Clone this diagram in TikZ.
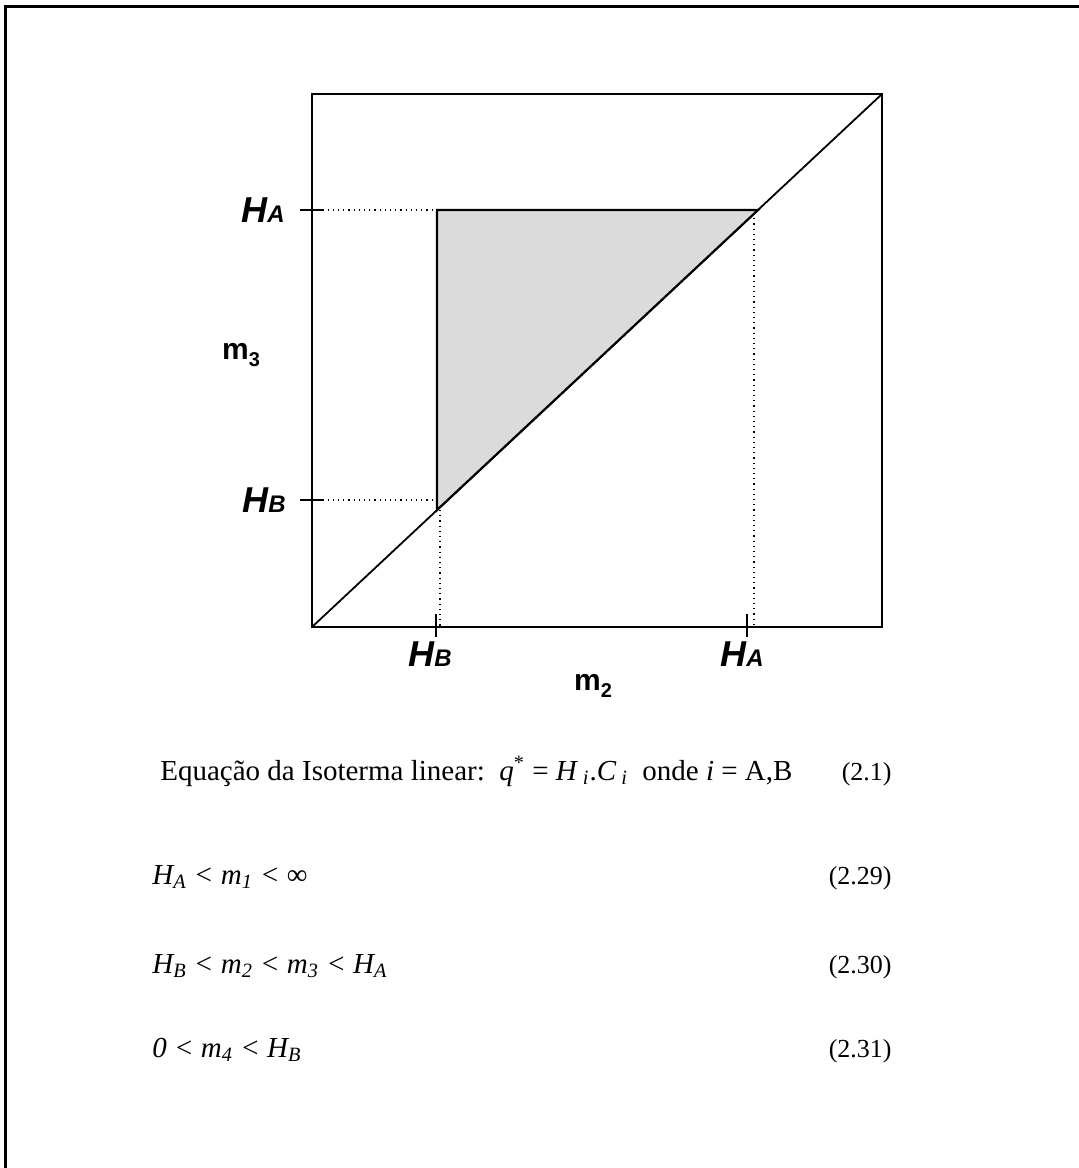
\documentclass[tikz,border=0pt]{standalone}
\usepackage{fontspec}
\setmainfont{Liberation Serif}
\setsansfont{Liberation Sans}
\usetikzlibrary{positioning}

% bold italic H with a small index on the same baseline, as on the axes
\newcommand{\hlab}[1]{H{\fontsize{12}{12}\selectfont #1}}
\newcommand{\mlab}[1]{m\raisebox{-3.5pt}{\fontsize{10}{10}\selectfont #1}}
\newcommand{\sub}[1]{\textsubscript{\textit{#1}}}

\begin{document}
\begin{tikzpicture}[
  x=0.5pt, y=-0.5pt,
  frame/.style={line width=1.5pt},
  axis/.style={line width=0.9pt},
  guide/.style={dotted, line width=0.6pt},
  tick/.style={line width=0.7pt},
  hlabel/.style={font=\sffamily\bfseries\itshape\fontsize{18}{18}\selectfont, inner sep=0pt},
  mlabel/.style={font=\sffamily\bfseries\fontsize{15}{15}\selectfont, inner sep=0pt},
  eqline/.style={font=\fontsize{14.5}{16}\selectfont, anchor=base west, inner sep=0pt},
  eqnum/.style={font=\fontsize{13}{14}\selectfont, anchor=base east, inner sep=0pt}
]
\useasboundingbox (0,0) rectangle (1079,1168);

% page frame (top and left only)
\draw[frame] (5,1168) -- (5,6) -- (1079,6);

% plot box and diagonal
\coordinate (ll) at (312,627);
\coordinate (ur) at (882,94);
\draw[axis] (ll) rectangle (ur);
\draw[axis] (ll) -- (ur);

% feasible region
\coordinate (tl) at (437,210);
\coordinate (tr) at (758,210);
\coordinate (bl) at (437,510);
\fill[black!14] (tl) -- (tr) -- (bl) -- cycle;
\draw[axis, line width=1.1pt] (bl) -- (tl) -- (tr) -- cycle;

% guides to the axes
\coordinate (ya) at (312,210);
\coordinate (yb) at (312,500);
\coordinate (xb) at (440,627);
\coordinate (xa) at (754,627);
\draw[guide] (ya) -- (tl);
\draw[guide] (yb) -- (437,500);
\draw[guide] (440,510) -- (xb);
\draw[guide] (754,213) -- (xa);

% ticks
\draw[tick] (300,210) -- (323,210);
\draw[tick] (300,500) -- (323,500);
\draw[tick] (436,614) -- (436,637);
\draw[tick] (747,614) -- (747,637);

% axis labels
\node[hlabel] (ha) at (263,210) {\hlab{A}};
\node[hlabel] (hb) at (264,500) {\hlab{B}};
\node[mlabel] (m3) at (241,355) {\mlab{3}};
\node[hlabel] (hbx) at (430,654) {\hlab{B}};
\node[hlabel] (hax) at (742,654) {\hlab{A}};
\node[mlabel] (m2) at (593,686) {\mlab{2}};

% equations
\node[eqline] (iso) at (160,780)
  {Equação da Isoterma linear:\ \ \textit{q}\textsuperscript{*}\ =\ \textit{H}\,\sub{i}.\textit{C}\,\sub{i}\ \ onde \textit{i} = A,B};
\node[eqnum] (n21) at (892,780) {(2.1)};
\node[eqline] (e229) at (152,884) {\textit{H\sub{A} < m\sub{1} < }∞};
\node[eqnum] (n229) at (892,884) {(2.29)};
\node[eqline] (e230) at (152,973) {\textit{H\sub{B} < m\sub{2} < m\sub{3} < H\sub{A}}};
\node[eqnum] (n230) at (892,973) {(2.30)};
\node[eqline] (e231) at (152,1057) {\textit{0 < m\sub{4} < H\sub{B}}};
\node[eqnum] (n231) at (892,1057) {(2.31)};
\end{tikzpicture}
\end{document}
